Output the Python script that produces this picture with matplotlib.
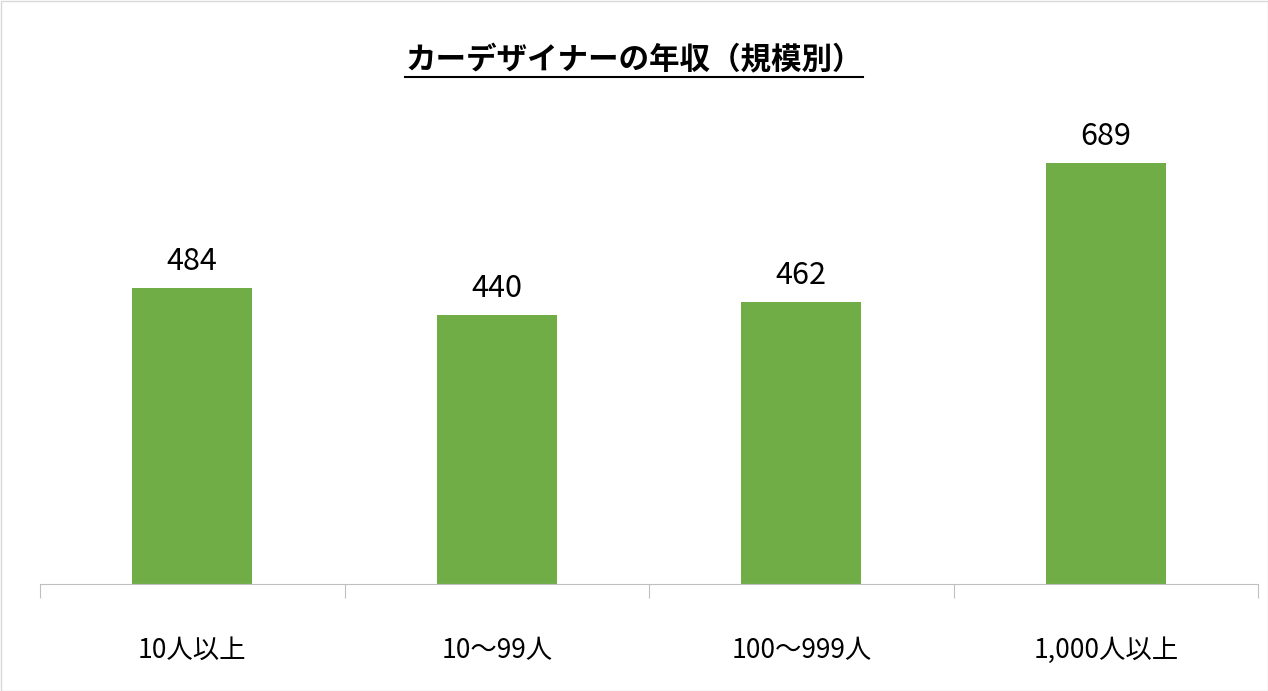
import matplotlib
matplotlib.use("Agg")
import matplotlib.pyplot as plt
from matplotlib.patches import Rectangle

categories = ["10人以上", "10〜99人", "100〜999人", "1,000人以上"]
values = [484, 440, 462, 689]
title = "カーデザイナーの年収（規模別）"

plt.rcParams['font.family'] = ['Noto Sans CJK JP', 'DejaVu Sans']
fig = plt.figure(figsize=(12.68, 6.91), dpi=100)
ax = fig.add_axes([40/1268, 1-584/691, 1218/1268, (584-95)/691])
x = list(range(len(values)))
bars = ax.bar(x, values, width=0.395, color="#70AD47")
for xi, v in zip(x, values):
    ax.text(xi, v + 18, str(v), ha="center", va="bottom", fontsize=22)
ax.set_xlim(-0.5, len(values) - 0.5)
ax.set_ylim(0, 800)
ax.set_yticks([])
for s in ["top", "right", "left"]:
    ax.spines[s].set_visible(False)
ax.spines["bottom"].set_color("#BFBFBF")
ax.set_xticks([i - 0.5 for i in range(len(values) + 1)], minor=False)
ax.set_xticklabels([])
ax.tick_params(axis="x", which="major", length=10, color="#BFBFBF")
ax.set_xticks(x, minor=True)
ax.set_xticklabels(categories, minor=True, fontsize=19)
ax.tick_params(axis="x", which="minor", length=0, pad=38)
t = fig.text(0.5, 1 - 60/691, title, ha="center", va="center", fontsize=22, fontweight="bold")
fig.canvas.draw()
bb = t.get_window_extent()
fig.add_artist(plt.Line2D([bb.x0/1268, bb.x1/1268], [(bb.y0-1)/691]*2, color="black", lw=1.5))
fig.add_artist(Rectangle((0.5/1268, 0.5/691), 1-1/1268, 1-1/691, fill=False, edgecolor="#D9D9D9", lw=1, transform=fig.transFigure))
fig.savefig("out.png", dpi=100)
